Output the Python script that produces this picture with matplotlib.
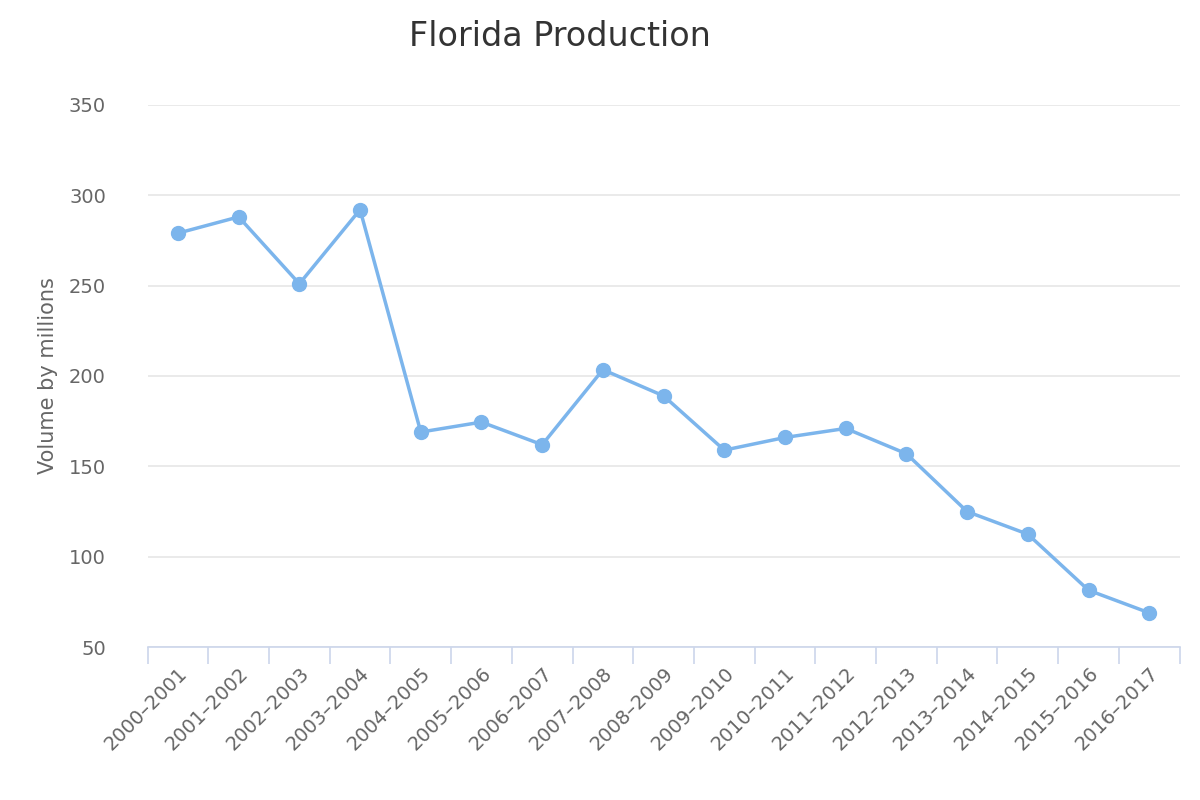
import matplotlib
matplotlib.use("Agg")
import matplotlib.pyplot as plt
import numpy as np

seasons = ["2000–2001", "2001–2002", "2002–2003", "2003–2004", "2004–2005",
           "2005–2006", "2006–2007", "2007–2008", "2008–2009", "2009–2010",
           "2010–2011", "2011–2012", "2012–2013", "2013–2014", "2014–2015",
           "2015–2016", "2016–2017"]
volume = [279, 288, 251, 292, 169, 174.5, 162, 203.5, 189, 159,
          166, 171, 157, 125, 112.5, 81.5, 69]
y_ticks = [50, 100, 150, 200, 250, 300, 350]

plt.rcParams["font.family"] = "DejaVu Sans"

fig = plt.figure(figsize=(12, 8), dpi=100)
ax = fig.add_axes([0.123, 0.191, 0.86, 0.678])

x = np.arange(len(seasons))
ax.plot(x, volume, color="#7cb5ec", lw=2.5, marker="o", markersize=10,
        zorder=3, clip_on=False)

ax.set_xlim(-0.5, len(seasons) - 0.5)
ax.set_ylim(50, 350)
ax.set_yticks(y_ticks)
ax.set_yticklabels([str(v) for v in y_ticks], fontsize=14, color="#666666")
ax.grid(axis="y", color="#e6e6e6", lw=1.2)
ax.set_axisbelow(True)

ax.set_xticks(x)
ax.set_xticklabels(seasons, rotation=45, ha="right", rotation_mode="anchor",
                   fontsize=14, color="#666666")
ax.tick_params(axis="x", length=0, pad=12)
ax.set_xticks(np.arange(len(seasons) + 1) - 0.5, minor=True)
ax.tick_params(axis="x", which="minor", length=12, color="#ccd6eb", width=1.2)
ax.tick_params(axis="y", length=0, pad=30)

for s in ["top", "right", "left"]:
    ax.spines[s].set_visible(False)
ax.spines["bottom"].set_color("#ccd6eb")
ax.spines["bottom"].set_linewidth(1.2)

ax.set_ylabel("Volume by millions", fontsize=15, color="#666666", labelpad=8)
fig.text(0.467, 0.955, "Florida Production", fontsize=24, color="#333333",
         ha="center", va="center")

fig.savefig("out.png", dpi=100)
